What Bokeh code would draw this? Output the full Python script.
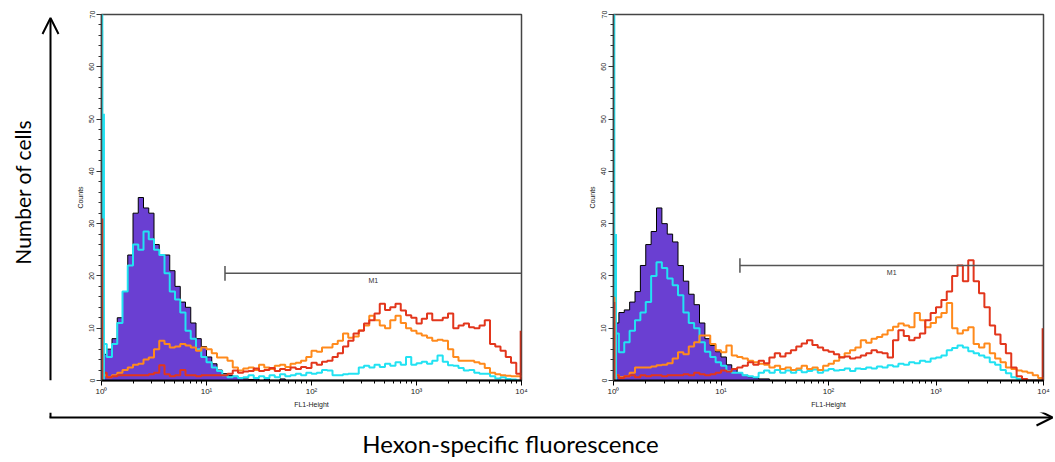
import math
import numpy as np
from bokeh.plotting import figure
from bokeh.layouts import row, column
from bokeh.models import Range1d, FixedTicker, Arrow, OpenHead
from bokeh.core.properties import value
from bokeh.embed import file_html
from bokeh.resources import INLINE

# ---------------- data ----------------
# histogram bins: 20 bins per decade over 10^0 .. 10^4 (FL1-Height)
BINS_PER_DECADE = 20
N_DECADES = 4
# instrument channels (256 channels over 4 decades) used for the edge spikes
CHANNELS_PER_DECADE = 64

left_negative = [5, 6, 8, 12, 17, 24, 32, 35, 33, 32,
                 26, 24, 24, 21, 18, 15, 14, 11, 8, 6.5,
                 4.5, 3.2, 2, 1.3, 1, 0.8, 0.5, 0.3, 0.2, 0.3,
                 0, 0.3, 0, 0, 0.3, 0, 0, 0, 0, 0,
                 0, 0, 0, 0, 0, 0, 0, 0, 0, 0,
                 0, 0, 0, 0, 0, 0, 0, 0, 0, 0,
                 0, 0, 0, 0, 0, 0, 0, 0, 0, 0,
                 0, 0, 0, 0, 0, 0, 0, 0, 0, 0]
left_cyan = [7, 4.5, 7, 11, 17, 22, 26, 25, 28.5, 27,
             25, 24, 20.5, 17, 15.5, 13, 9.5, 8, 6, 4.5,
             3.5, 2.5, 1.8, 1, 0.6, 0.8, 0.5, 0.6, 1, 0.5,
             0.8, 0.5, 1, 0.6, 1.2, 0.8, 1, 1.3, 1, 1.5,
             1.3, 1.5, 2, 1.9, 1, 1, 1.2, 1.3, 1.3, 2.5,
             2.8, 2.5, 3, 2.6, 3.2, 2.8, 3.5, 3, 4.5, 3,
             3.3, 3.6, 3.2, 3.8, 4.8, 3.6, 2.9, 2.8, 2.4, 1.9,
             2, 1.5, 1.3, 1.3, 0.8, 0.4, 0.6, 0.3, 0.2, 0]
left_orange = [1, 0.6, 1, 1.5, 2, 2.5, 3, 3.2, 4, 4.4,
               6, 7.6, 7, 6.3, 6.5, 7, 6.7, 6.3, 5.7, 6.3,
               6, 5.2, 4.4, 4.4, 3.8, 2.5, 1.9, 2.3, 2.5, 2,
               3, 2.5, 2.2, 2.8, 3, 2.6, 3.2, 3.4, 3.8, 4.5,
               5.7, 5.5, 6.3, 6.3, 7, 7.6, 9, 8.2, 8.4, 9.6,
               10.5, 12.4, 11.5, 10.5, 10, 11.5, 12.4, 11, 10, 9.5,
               9, 8.6, 8.2, 7.6, 7.8, 7.6, 6, 4.5, 3.8, 3.8,
               3.8, 3.5, 3.2, 2.4, 1.5, 1.2, 1, 0.9, 0.8, 0.8]
left_red = [1.5, 0.6, 0.8, 1, 1, 1, 1, 1, 1, 1.2,
            1.5, 2.9, 1.2, 0.8, 1, 2, 1, 1, 0.8, 1,
            1, 1, 1, 1, 1.3, 1.9, 1.5, 1.7, 1.8, 2.3,
            1.8, 2, 2.4, 1.8, 2.2, 2, 2.5, 2.2, 2.6, 2.4,
            3.4, 3, 3.6, 3.8, 4.5, 5.2, 6.5, 7.6, 9, 9.5,
            10.9, 11.5, 12.8, 14.7, 13.5, 14, 14.7, 13.4, 12.5, 12,
            10.9, 11.8, 12.8, 11.5, 11.5, 12, 12.8, 10, 10.5, 10.9,
            10.2, 10, 10.5, 11.5, 7, 6.5, 5.7, 4.5, 3.4, 1.3]

right_negative = [11, 13, 13.5, 15, 17, 22, 26, 28.5, 33, 30,
                  28, 26.5, 22, 19, 16.5, 14.5, 11, 8, 6.7, 5.5,
                  4.5, 3, 2.2, 1.5, 1, 0.7, 0.5, 0.3, 0.3, 0,
                  0, 0, 0, 0, 0, 0, 0, 0, 0, 0,
                  0, 0, 0, 0, 0, 0, 0, 0, 0, 0,
                  0, 0, 0, 0, 0, 0, 0, 0, 0, 0,
                  0, 0, 0, 0, 0, 0, 0, 0, 0, 0,
                  0, 0, 0, 0, 0, 0, 0, 0, 0, 0]
right_cyan = [9, 5.4, 7.3, 9.5, 11.5, 13, 15, 20, 22.6, 21.5,
              19.5, 18.2, 16.3, 13, 11, 10, 7.3, 5.5, 4.5, 3.5,
              2.8, 1.8, 1.5, 1.5, 1, 0.8, 0.6, 1.5, 1.9, 1.5,
              2, 1.5, 1.9, 1.5, 2, 1.6, 1.8, 2.1, 1.5, 1.9,
              2.2, 1.9, 2, 2.3, 1.8, 2.3, 2.2, 2.5, 2.3, 2.7,
              2.5, 2.9, 2.7, 3.2, 3, 3.5, 3.3, 3.8, 3.6, 4.2,
              4.4, 4.8, 5.8, 6.2, 6.7, 6.3, 5.6, 5.2, 4.8, 4.4,
              3.5, 3, 2, 1.4, 0.6, 0.3, 0, 0, 0, 0]
right_orange = [1, 0.6, 0.8, 1.5, 2.5, 2.5, 2.5, 2.7, 2.9, 3,
                3.3, 4.2, 5.4, 5, 6.5, 7.3, 8.6, 8.6, 7, 5.8,
                5.4, 6.7, 4.8, 4.5, 4.2, 3.8, 3.5, 3.2, 3, 2.5,
                2.8, 2.2, 2.5, 2, 2.3, 2.8, 2.2, 2.5, 2, 2.8,
                3.2, 3.8, 4.5, 5.2, 5.8, 6.3, 7.7, 7.2, 8, 8.3,
                8.8, 9.6, 10.3, 10.9, 10.5, 10.2, 12.9, 11.5, 10.2, 11,
                12.1, 12.9, 14.8, 10, 9, 9.6, 10.2, 7, 6.3, 7.1,
                5.2, 4.2, 3.5, 2.5, 2.2, 1.9, 1.7, 1.5, 1, 0.5]
right_red = [1, 0.5, 0.8, 1, 0.6, 1, 0.8, 1, 1, 0.8,
             1, 1, 1, 1.2, 1, 1.5, 1.2, 1, 1.2, 1.5,
             1.9, 1.7, 2.2, 2.5, 2.8, 3.5, 3, 3.8, 3.3, 4.4,
             5.2, 4.6, 5.2, 5.8, 6.5, 7.1, 7.7, 6.8, 6.3, 5.8,
             5.5, 5, 4.4, 4.6, 4.2, 4.4, 4.8, 5.2, 5.8, 5.4,
             5.2, 4.4, 7.7, 9.6, 8.5, 7.7, 8.2, 9, 11.5, 12.9,
             14, 15.4, 17, 20, 22, 19, 23, 19, 16.7, 14,
             10.5, 8.8, 7, 5.2, 2.5, 0.8, 0.3, 0, 0, 0]

# counts piled in the first instrument channels (ch0, ch1) and the last one
left_first = {"negative": [67, 0], "cyan": [72, 51], "orange": [0, 0], "red": [31, 0]}
right_first = {"negative": [0, 0], "cyan": [72, 28], "orange": [16, 0], "red": [15, 0]}
left_last_red = 9.5
right_last_red = 10

# M1 gate: start (FL1) and drawing level (counts)
left_m1 = (15, 20.5)
right_m1 = (15, 22)

y_ticks = [0, 10, 20, 30, 40, 50, 60, 70]
x_ticks = [1, 10, 100, 1000, 10000]
x_tick_labels = ["10\u2070", "10\u00b9", "10\u00b2", "10\u00b3", "10\u2074"]

# ---------------- style ----------------
C_NEG = "#6a3fd2"
C_CYAN = "#22e2f2"
C_ORANGE = "#ff8a1c"
C_RED = "#e2361c"
C_LASTRED = "#c0301c"
SMALL_FONT = "Liberation Sans"
BIG_FONT = "Lato"

edges = 10 ** (np.arange(BINS_PER_DECADE * N_DECADES + 1) / BINS_PER_DECADE)


def stepped(vals):
    return list(vals) + [vals[-1]]


def make_panel(neg, cy, org, red, first, last_red, m1, frame_w, b_left, b_right):
    p = figure(frame_width=frame_w, frame_height=366, x_axis_type="log",
               x_range=Range1d(1, 1e4), y_range=Range1d(0, 70),
               min_border_left=b_left, min_border_right=b_right,
               min_border_top=14, min_border_bottom=32,
               output_backend="svg", toolbar_location=None)
    p.grid.visible = False
    p.outline_line_color = "#444444"
    p.outline_line_width = 1.5
    p.background_fill_color = "white"
    p.border_fill_color = "white"

    # negative control: filled
    p.varea_step(x=edges, y1=np.zeros(len(edges)), y2=stepped(neg), step_mode="after",
                 fill_color=C_NEG)
    p.step(x=edges, y=stepped(neg), mode="after", line_color="black", line_width=1)
    p.step(x=edges, y=stepped(cy), mode="after", line_color=C_CYAN, line_width=2)
    p.step(x=edges, y=stepped(org), mode="after", line_color=C_ORANGE, line_width=2)
    p.step(x=edges, y=stepped(red), mode="after", line_color=C_RED, line_width=2)

    # first-channel spikes
    ch = 10 ** ((np.arange(2) + 0.5) / CHANNELS_PER_DECADE)
    for key, col, lw in [("negative", "black", 1.5), ("cyan", C_CYAN, 2),
                         ("orange", C_ORANGE, 2), ("red", C_RED, 2)]:
        v = first[key]
        p.segment(x0=ch, y0=[0, 0], x1=ch, y1=v, line_color=col, line_width=lw)
    last_ch = 10 ** (N_DECADES - 0.5 / CHANNELS_PER_DECADE)
    p.segment(x0=[last_ch], y0=[0], x1=[last_ch], y1=[last_red], line_color=C_LASTRED, line_width=2)

    # M1 marker
    m_start, m_level = m1
    p.segment(x0=[m_start], y0=[m_level], x1=[1e4], y1=[m_level], line_color="#555555", line_width=1.5)
    p.segment(x0=[m_start], y0=[m_level - 1.4], x1=[m_start], y1=[m_level + 1.4],
              line_color="#555555", line_width=1.5)
    p.text(x=[math.sqrt(m_start * 1e4)], y=[m_level], text=["M1"], y_offset=4,
           text_align="center", text_baseline="top", text_font=value(SMALL_FONT),
           text_font_size="7px", text_color="#333333")

    xa = p.xaxis[0]
    xa.ticker = FixedTicker(ticks=x_ticks,
                            minor_ticks=[m * 10 ** e for e in range(N_DECADES) for m in range(2, 10)])
    xa.major_label_overrides = {t: lab for t, lab in zip(x_ticks, x_tick_labels)}
    xa.axis_line_color = "black"
    xa.axis_line_width = 2
    xa.major_tick_line_color = "black"
    xa.minor_tick_line_color = "black"
    xa.major_tick_out = 5
    xa.major_tick_in = 0
    xa.minor_tick_out = 3
    xa.minor_tick_in = 0
    xa.major_label_standoff = 1
    xa.major_label_text_font = SMALL_FONT
    xa.major_label_text_font_size = "8px"
    xa.major_label_text_color = "#222222"
    xa.axis_label = "FL1-Height"
    xa.axis_label_text_font = SMALL_FONT
    xa.axis_label_text_font_size = "7px"
    xa.axis_label_text_font_style = "normal"
    xa.axis_label_text_color = "#222222"
    xa.axis_label_standoff = 2

    ya = p.yaxis[0]
    ya.ticker = FixedTicker(ticks=y_ticks, minor_ticks=list(range(0, 71, 2)))
    ya.axis_line_color = "#444444"
    ya.axis_line_width = 1.5
    ya.major_tick_line_color = "#333333"
    ya.minor_tick_line_color = "#333333"
    ya.major_tick_out = 5
    ya.major_tick_in = 0
    ya.minor_tick_out = 3
    ya.minor_tick_in = 0
    ya.major_label_orientation = "vertical"
    ya.major_label_standoff = 2
    ya.major_label_text_font = SMALL_FONT
    ya.major_label_text_font_size = "7px"
    ya.major_label_text_color = "#222222"
    ya.axis_label = "Counts"
    ya.axis_label_text_font = SMALL_FONT
    ya.axis_label_text_font_size = "7px"
    ya.axis_label_text_font_style = "normal"
    ya.axis_label_text_color = "#222222"
    ya.axis_label_standoff = 3
    return p


left = make_panel(left_negative, left_cyan, left_orange, left_red, left_first, left_last_red,
                  left_m1, frame_w=420, b_left=41, b_right=39)
right = make_panel(right_negative, right_cyan, right_orange, right_red, right_first, right_last_red,
                   right_m1, frame_w=430, b_left=53, b_right=12)

# ---------------- outer decoration (pixel-space strips) ----------------
strip_left = figure(width=60, height=412, x_range=Range1d(0, 60), y_range=Range1d(412, 0),
                    x_axis_location=None, y_axis_location=None, min_border=0,
                    output_backend="svg", toolbar_location=None)
strip_left.grid.visible = False
strip_left.outline_line_color = None
strip_left.add_layout(Arrow(end=OpenHead(size=16, line_width=2, line_color="black"),
                            x_start=50, y_start=412, x_end=50, y_end=4,
                            line_width=2, line_color="black"))
strip_left.text(x=[22], y=[200], text=["Number of cells"], angle=math.pi / 2,
                text_align="center", text_baseline="middle", text_font=value(BIG_FONT),
                text_font_size="21px", text_color="black")

strip_bottom = figure(width=1055, height=50, x_range=Range1d(0, 1055), y_range=Range1d(50, 0),
                      x_axis_location=None, y_axis_location=None, min_border=0,
                      output_backend="svg", toolbar_location=None)
strip_bottom.grid.visible = False
strip_bottom.outline_line_color = None
strip_bottom.segment(x0=[50], y0=[0], x1=[50], y1=[5], line_color="black", line_width=2)
strip_bottom.add_layout(Arrow(end=OpenHead(size=16, line_width=2, line_color="black"),
                              x_start=49, y_start=5, x_end=1052, y_end=5,
                              line_width=2, line_color="black"))
strip_bottom.text(x=[510], y=[31], text=["Hexon-specific fluorescence"],
                  text_align="center", text_baseline="middle", text_font=value(BIG_FONT),
                  text_font_size="24px", text_color="black")

layout = column(row(strip_left, left, right, spacing=0), strip_bottom, spacing=0)

open("out.html", "w").write(file_html(layout, INLINE))
